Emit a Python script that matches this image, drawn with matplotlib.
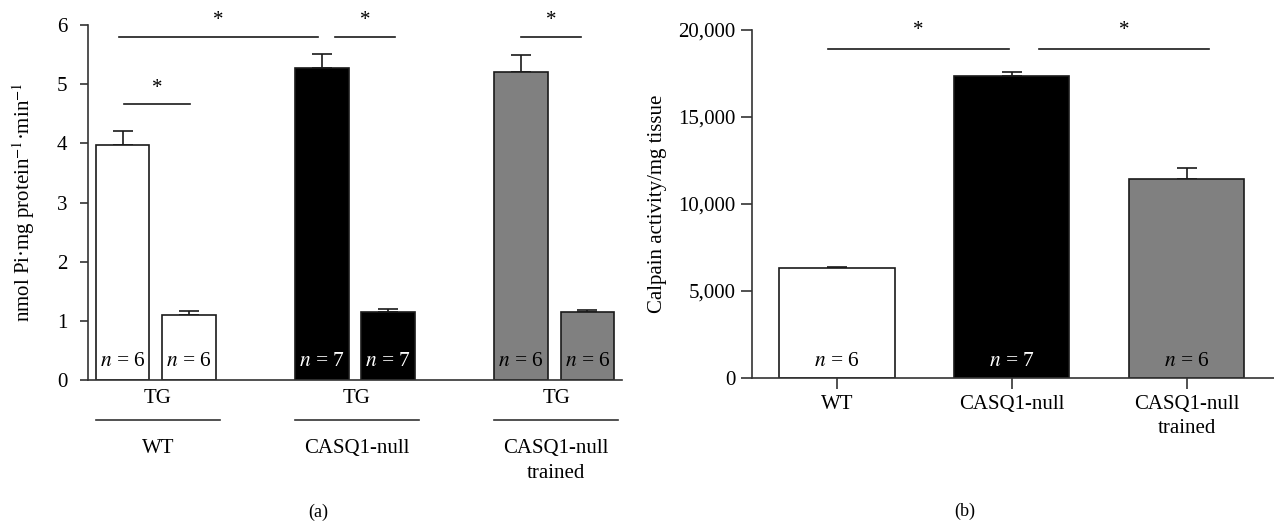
import numpy as np
import matplotlib
matplotlib.use('Agg')
from matplotlib import pyplot as plt

plt.rcParams['font.family'] = ['Liberation Serif', 'DejaVu Serif']
plt.rcParams['mathtext.fontset'] = 'stix'

# panel (a): ATPase activity, each group = control / TG
groups_a = ['WT', 'CASQ1-null', 'CASQ1-null\ntrained']
mean_a = [3.98, 1.10, 5.28, 1.15, 5.20, 1.15]
err_a = [0.22, 0.06, 0.23, 0.05, 0.30, 0.04]
n_a = [6, 6, 7, 7, 6, 6]

# panel (b): calpain activity
groups_b = ['WT', 'CASQ1-null', 'CASQ1-null\ntrained']
mean_b = [6300, 17380, 11410]
err_b = [80, 230, 660]
n_b = [6, 7, 6]

colors = ['white', 'black', '#808080']
edge = '#1a1a1a'
spine_c = '#333333'
fs = 15

fig = plt.figure(figsize=(12.74, 5.24), dpi=100)

# ---------------- (a) ----------------
ax = fig.add_axes([88 / 1274, 1 - 380 / 524, (622 - 88) / 1274, 355 / 524])
xa = np.array([0, 1, 3, 4, 6, 7]) * 1.0
ca = [colors[i // 2] for i in range(6)]
ax.bar(xa, mean_a, width=0.81, color=ca, edgecolor=edge, linewidth=1.2, zorder=2)
ax.errorbar(xa, mean_a, yerr=[np.zeros(6), err_a], fmt='none', ecolor=edge,
            elinewidth=1.2, capsize=7, capthick=1.2, zorder=1)
ax.set_xlim(-0.52, 7.52)
ax.set_ylim(0, 6)
ax.set_yticks(range(0, 7))
ax.set_xticks([])
for s in ['top', 'right']:
    ax.spines[s].set_visible(False)
for s in ['left', 'bottom']:
    ax.spines[s].set_color(spine_c)
    ax.spines[s].set_linewidth(1.2)
ax.tick_params(axis='y', direction='out', length=6, width=1.2, color=spine_c,
               labelsize=fs, pad=9)
ax.set_ylabel(r'nmol Pi·mg protein$^{-1}$·min$^{-1}$', fontsize=fs, labelpad=14)

for x, n, c in zip(xa, n_a, ca):
    tc = 'white' if c == 'black' else 'black'
    ax.text(x, 0.32, r'$n$ = %d' % n, ha='center', va='center', fontsize=15.5, color=tc)

# group labels under the axis
for i, g in enumerate(groups_a):
    cx = xa[2 * i] + 0.53
    ax.text(cx, -0.31, 'TG', ha='center', va='center', fontsize=fs, clip_on=False)
    ax.plot([cx - 0.93, cx + 0.93], [-0.68, -0.68], color=spine_c, lw=1.2, clip_on=False)
    ax.text(cx, -1.0, g, ha='center', va='top', fontsize=fs, linespacing=1.4, clip_on=False)

# significance lines
sig_a = [(-0.06, 2.94, 5.80), (3.2, 4.1, 5.80), (6.0, 6.9, 5.80), (0.02, 1.01, 4.66)]
for x0, x1, y in sig_a:
    ax.plot([x0, x1], [y, y], color=edge, lw=1.2, clip_on=False)
    ax.text((x0 + x1) / 2, y + 0.27, '*', ha='center', va='center', fontsize=fs, clip_on=False)

fig.text(318 / 1274, 1 - 512 / 524, '(a)', ha='center', va='center', fontsize=13)

# ---------------- (b) ----------------
bx = fig.add_axes([752 / 1274, 1 - 378 / 524, (1274 - 752) / 1274, 348 / 524])
xb = np.arange(3) * 1.0
bx.bar(xb, mean_b, width=0.66, color=colors, edgecolor=edge, linewidth=1.2, zorder=2)
bx.errorbar(xb, mean_b, yerr=[np.zeros(3), err_b], fmt='none', ecolor=edge,
            elinewidth=1.2, capsize=7, capthick=1.2, zorder=1)
bx.set_xlim(-0.486, 2.5)
bx.set_ylim(0, 20000)
bx.set_yticks([0, 5000, 10000, 15000, 20000])
bx.set_yticklabels(['0', '5,000', '10,000', '15,000', '20,000'])
bx.set_xticks(xb)
bx.set_xticklabels(groups_b)
for s in ['top', 'right']:
    bx.spines[s].set_visible(False)
for s in ['left', 'bottom']:
    bx.spines[s].set_color(spine_c)
    bx.spines[s].set_linewidth(1.2)
bx.tick_params(axis='both', direction='out', length=8, width=1.2, color=spine_c,
               labelsize=fs, pad=4)
for lab in bx.get_xticklabels():
    lab.set_linespacing(1.4)
bx.set_ylabel('Calpain activity/mg tissue', fontsize=fs, labelpad=8)

for x, n, c in zip(xb, n_b, colors):
    tc = 'white' if c == 'black' else 'black'
    bx.text(x, 950, r'$n$ = %d' % n, ha='center', va='center', fontsize=15.5, color=tc)

sig_b = [(-0.05, 0.985, 18900), (1.155, 2.13, 18900)]
for x0, x1, y in sig_b:
    bx.plot([x0, x1], [y, y], color=edge, lw=1.2, clip_on=False)
    bx.text((x0 + x1) / 2, y + 1050, '*', ha='center', va='center', fontsize=fs, clip_on=False)

fig.text(965 / 1274, 1 - 511 / 524, '(b)', ha='center', va='center', fontsize=13)

fig.savefig('out.png', dpi=100)
